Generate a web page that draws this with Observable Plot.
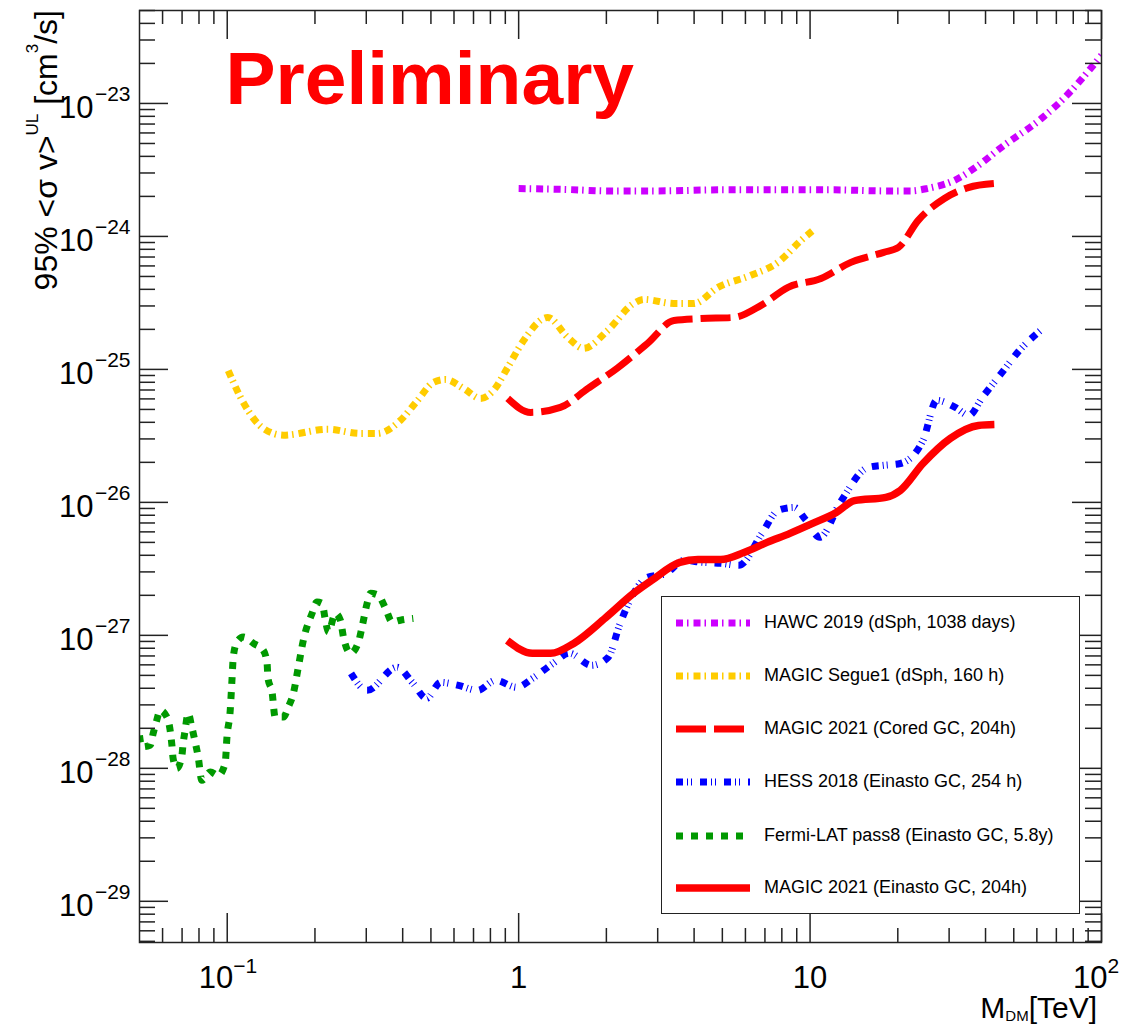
<!DOCTYPE html>
<html>
<head>
<meta charset="utf-8">
<script src="https://cdn.jsdelivr.net/npm/d3@7"></script>
<script src="https://cdn.jsdelivr.net/npm/@observablehq/plot@0.6"></script>
<style>
  body { margin: 0; background: #fff; }
  #wrap { position: relative; width: 1140px; height: 1025px; overflow: hidden; font-family: "Liberation Sans", Arial, sans-serif; color: #000; }
  #chart { position: absolute; left: 0; top: 0; }
  #ytitle { position: absolute; left: 30px; top: 310px; width: 300px; text-align: right; transform-origin: 0 0; transform: rotate(-90deg); font-size: 32px; line-height: 32px; white-space: nowrap; }
  #xtitle { position: absolute; right: 43px; top: 996px; font-size: 30px; line-height: 24px; white-space: nowrap; }
  #legend { position: absolute; left: 661px; top: 596px; width: 419px; height: 318px; border: 1.5px solid #222; background: #fff; box-sizing: border-box; }
  .lrow { position: absolute; left: 0; width: 100%; height: 20px; }
  .lrow svg { position: absolute; left: 14px; top: 0; }
  .lrow span { position: absolute; left: 102px; top: -1px; font-size: 18px; line-height: 20px; white-space: nowrap; }
</style>
</head>
<body>
<div id="wrap">
  <div id="chart"></div>
  <div id="ytitle">95% &lt;σ v&gt;<span style="font-size:17px;vertical-align:19px;line-height:0">UL</span> [cm<span style="font-size:17px;vertical-align:19px;line-height:0">3</span>/s]</div>
  <div id="xtitle">M<span style="font-size:15px;vertical-align:-3px;line-height:0">DM</span>[TeV]</div>
  <div id="legend"></div>
</div>
<script>
// ---------------- data ----------------
const hawcMass = [1, 1.5, 2, 3, 5, 8, 12, 18, 22.2, 25.4, 31.3, 37.8, 45.3, 62.2, 72.9, 100];
const hawcSigmaV = [2.29e-24, 2.25e-24, 2.2e-24, 2.2e-24, 2.24e-24, 2.24e-24, 2.24e-24, 2.2e-24, 2.2e-24, 2.3e-24, 2.64e-24, 3.42e-24, 4.67e-24, 7.7e-24, 1.05e-23, 2.3e-23];

const segueMass = [0.1008, 0.1135, 0.133, 0.156, 0.221, 0.286, 0.328, 0.393, 0.45, 0.51, 0.561, 0.647, 0.74, 0.82, 0.916, 1.04, 1.258, 1.474, 1.67, 2.02, 2.48, 2.69, 3.41, 3.99, 4.83, 6.27, 7.76, 9.31, 10.24];
const segueSigmaV = [9.8e-26, 5.65e-26, 3.6e-26, 3.2e-26, 3.55e-26, 3.3e-26, 3.3e-26, 4.14e-26, 5.85e-26, 7.98e-26, 8.4e-26, 7.2e-26, 6.05e-26, 6.95e-26, 1.03e-25, 1.65e-25, 2.46e-25, 1.74e-25, 1.44e-25, 1.96e-25, 3.13e-25, 3.36e-25, 3.13e-25, 3.13e-25, 4.14e-25, 5.1e-25, 6.38e-25, 9.33e-25, 1.11e-24];

const coredMass = [0.917, 1.10, 1.39, 1.73, 2.19, 2.77, 3.41, 4.22, 5.48, 6.79, 8.40, 10.9, 13.8, 17.9, 20.1, 23.5, 28.9, 34.9, 42.9];
const coredSigmaV = [6.05e-26, 4.75e-26, 5.18e-26, 7.2e-26, 1.03e-25, 1.57e-25, 2.33e-25, 2.41e-25, 2.46e-25, 3.03e-25, 4.14e-25, 4.83e-25, 6.38e-25, 7.59e-25, 8.27e-25, 1.32e-24, 1.93e-24, 2.33e-24, 2.5e-24];

const hessMass = [0.266, 0.302, 0.382, 0.434, 0.483, 0.540, 0.622, 0.723, 0.834, 0.984, 1.117, 1.314, 1.491, 1.78, 2.03, 2.22, 2.48, 2.76, 3.20, 3.69, 4.27, 4.94, 5.70, 6.84, 7.76, 8.81, 9.69, 10.8, 12.7, 15.8, 17.9, 20.4, 24.4, 27.2, 31.5, 35.1, 39.0, 45.3, 52.3, 61.7];
const hessSigmaV = [5.18e-28, 3.86e-28, 5.75e-28, 4.36e-28, 3.36e-28, 4.43e-28, 4.2e-28, 3.86e-28, 4.59e-28, 4.07e-28, 4.75e-28, 6.17e-28, 7.33e-28, 5.95e-28, 6.84e-28, 1.2e-27, 2.07e-27, 2.73e-27, 2.92e-27, 3.66e-27, 3.54e-27, 3.48e-27, 3.36e-27, 5.85e-27, 8.7e-27, 9.16e-27, 7.32e-27, 5.46e-27, 1.0e-26, 1.83e-26, 1.9e-26, 1.96e-26, 2.92e-26, 5.85e-26, 5.18e-26, 4.51e-26, 6.16e-26, 9.33e-26, 1.39e-25, 1.96e-25];

const fermiMass = [0.05, 0.0509, 0.0544, 0.0557, 0.0573, 0.0589, 0.0621, 0.0637, 0.0646, 0.0652, 0.0671, 0.0698, 0.0706, 0.0717, 0.0734, 0.0756, 0.0776, 0.0795, 0.0818, 0.0875, 0.0932, 0.0984, 0.0998, 0.1024, 0.1038, 0.1049, 0.108, 0.1135, 0.123, 0.133, 0.137, 0.138, 0.1425, 0.146, 0.156, 0.162, 0.1686, 0.1754, 0.1824, 0.1954, 0.2032, 0.2115, 0.2172, 0.2224, 0.235, 0.2445, 0.2505, 0.265, 0.282, 0.290, 0.302, 0.310, 0.330, 0.349, 0.368, 0.393, 0.435];
const fermiSigmaV = [1.77e-28, 1.45e-28, 1.49e-28, 1.83e-28, 2.3e-28, 2.73e-28, 2.43e-28, 1.93e-28, 1.49e-28, 1.19e-28, 1.0e-28, 1.22e-28, 1.54e-28, 1.93e-28, 2.59e-28, 2.04e-28, 1.58e-28, 1.22e-28, 8.13e-29, 9.38e-29, 8.85e-29, 1.09e-28, 1.72e-28, 2.73e-28, 4.59e-28, 6.87e-28, 8.9e-28, 9.7e-28, 8.71e-28, 7.71e-28, 6.16e-28, 4.75e-28, 3.75e-28, 2.43e-28, 2.43e-28, 2.89e-28, 3.66e-28, 5.78e-28, 9.16e-28, 1.46e-27, 1.78e-27, 1.74e-27, 1.3e-27, 1.06e-27, 1.46e-27, 1.3e-27, 9.7e-28, 7.33e-28, 8.9e-28, 1.15e-27, 1.74e-27, 2.07e-27, 2.0e-27, 1.6e-27, 1.26e-27, 1.3e-27, 1.34e-27];

const einastoMass = [0.914, 1.115, 1.288, 1.545, 1.99, 2.48, 2.86, 3.57, 4.12, 4.94, 5.93, 7.12, 8.53, 10.2, 12.3, 14.2, 18.2, 20.4, 24.4, 30.3, 37.8, 42.9];
const einastoSigmaV = [9.16e-28, 7.32e-28, 7.32e-28, 8.7e-28, 1.36e-27, 2.07e-27, 2.59e-27, 3.54e-27, 3.72e-27, 3.72e-27, 4.2e-27, 5.0e-27, 5.85e-27, 6.95e-27, 8.4e-27, 1.03e-26, 1.09e-26, 1.23e-26, 1.96e-26, 3.03e-26, 3.79e-26, 3.85e-26];

const xMajorTicks = [0.1, 1, 10, 100];
const xTickBase = ["10", "1", "10", "10"];
const xTickExp = ["−1", "", "", "2"];
const yMajorTicks = [1e-29, 1e-28, 1e-27, 1e-26, 1e-25, 1e-24, 1e-23];
const yTickExp = ["−29", "−28", "−27", "−26", "−25", "−24", "−23"];

const legendLabels = [
  "HAWC 2019 (dSph, 1038 days)",
  "MAGIC Segue1 (dSph, 160 h)",
  "MAGIC 2021 (Cored GC, 204h)",
  "HESS 2018 (Einasto GC, 254 h)",
  "Fermi-LAT pass8 (Einasto GC, 5.8y)",
  "MAGIC 2021 (Einasto GC, 204h)"
];

// ---------------- styles ----------------
const FONT = '"Liberation Sans", Arial, sans-serif';
const styles = [
  {color: "#CC00FF", width: 7, dash: "7 4 1.5 5"},
  {color: "#FFCC00", width: 7, dash: "7 4 1.5 5"},
  {color: "#FF0000", width: 7, dash: "30 8"},
  {color: "#0000FF", width: 7, dash: "7 4 1 3 1 8"},
  {color: "#009900", width: 7, dash: "7 8"},
  {color: "#FF0000", width: 7.5, dash: null}
];

const pts = (m, s) => m.map((d, i) => ({m: d, sv: s[i]}));
const seriesData = [
  pts(hawcMass, hawcSigmaV),
  pts(segueMass, segueSigmaV),
  pts(coredMass, coredSigmaV),
  pts(hessMass, hessSigmaV),
  pts(fermiMass, fermiSigmaV),
  pts(einastoMass, einastoSigmaV)
];

const W = 1140, H = 1025, mL = 139, mR = 39, mT = 10, mB = 83;
const fw = W - mL - mR, fh = H - mT - mB;
const xDomain = [0.05, 100], yDomain = [4.9e-30, 5e-23];

const xMinor = [], yMinor = [];
for (let e = -2; e <= 1; e++) for (let k = 2; k <= 9; k++) {
  const v = k * Math.pow(10, e);
  if (v > xDomain[0] * 1.0001 && v < xDomain[1]) xMinor.push(v);
}
for (let e = -30; e <= -23; e++) for (let k = 2; k <= 9; k++) {
  const v = k * Math.pow(10, e);
  if (v > yDomain[0] && v < yDomain[1]) yMinor.push(v);
}

const tickStroke = "#222";
const lineMarks = seriesData.map((d, i) => Plot.line(d, {
  x: "m", y: "sv", stroke: styles[i].color, strokeWidth: styles[i].width,
  strokeDasharray: styles[i].dash || undefined, strokeLinecap: "butt", strokeLinejoin: "round",
  curve: "monotone-x", clip: true
}));

const xLab = xMajorTicks.map((v, i) => ({v, b: xTickBase[i], e: xTickExp[i]}));
const yLab = yMajorTicks.map((v, i) => ({v, e: yTickExp[i]}));

const chart = Plot.plot({
  width: W, height: H, marginLeft: mL, marginRight: mR, marginTop: mT, marginBottom: mB,
  x: {type: "log", domain: xDomain, axis: null},
  y: {type: "log", domain: yDomain, axis: null},
  style: {fontFamily: FONT, background: "white", color: "#000"},
  marks: [
    ...lineMarks,
    Plot.tickX(xMajorTicks, {x: d => d, insetTop: fh - 29, stroke: tickStroke, strokeWidth: 1.5}),
    Plot.tickX(xMajorTicks, {x: d => d, insetBottom: fh - 29, stroke: tickStroke, strokeWidth: 1.5}),
    Plot.tickX(xMinor, {x: d => d, insetTop: fh - 14, stroke: tickStroke, strokeWidth: 1.5}),
    Plot.tickX(xMinor, {x: d => d, insetBottom: fh - 14, stroke: tickStroke, strokeWidth: 1.5}),
    Plot.tickY(yMajorTicks, {y: d => d, insetRight: fw - 29, stroke: tickStroke, strokeWidth: 1.5}),
    Plot.tickY(yMajorTicks, {y: d => d, insetLeft: fw - 29, stroke: tickStroke, strokeWidth: 1.5}),
    Plot.tickY(yMinor, {y: d => d, insetRight: fw - 16, stroke: tickStroke, strokeWidth: 1.5}),
    Plot.tickY(yMinor, {y: d => d, insetLeft: fw - 16, stroke: tickStroke, strokeWidth: 1.5}),
    Plot.frame({stroke: tickStroke, strokeWidth: 1.5}),
    // x tick labels
    Plot.text(xLab.filter(d => d.e), {x: "v", text: "b", frameAnchor: "bottom", dy: 45, dx: 6, textAnchor: "end", lineAnchor: "bottom", fontSize: 31, fill: "#000"}),
    Plot.text(xLab.filter(d => d.e), {x: "v", text: "e", frameAnchor: "bottom", dy: 30, dx: 6, textAnchor: "start", lineAnchor: "bottom", fontSize: 21, fill: "#000"}),
    Plot.text(xLab.filter(d => !d.e), {x: "v", text: "b", frameAnchor: "bottom", dy: 45, textAnchor: "middle", lineAnchor: "bottom", fontSize: 31, fill: "#000"}),
    // y tick labels
    Plot.text(yLab, {y: "v", text: () => "10", frameAnchor: "left", dx: -46, dy: 15, textAnchor: "end", lineAnchor: "bottom", fontSize: 31, fill: "#000"}),
    Plot.text(yLab, {y: "v", text: "e", frameAnchor: "left", dx: -9, dy: -2, textAnchor: "end", lineAnchor: "bottom", fontSize: 21, fill: "#000"}),
    // Preliminary
    Plot.text(["Preliminary"], {text: d => d, frameAnchor: "top-left", dx: 86, dy: 93, textAnchor: "start", lineAnchor: "bottom", fontSize: 75, fontWeight: "bold", fill: "#FF0000"})
  ]
});
document.getElementById("chart").appendChild(chart);

// ---------------- legend ----------------
const legend = d3.select("#legend");
const rowCenters = [26, 79, 132, 185, 239, 291];
legendLabels.forEach((lab, i) => {
  const row = legend.append("div").attr("class", "lrow").style("top", (rowCenters[i] - 10) + "px");
  const svg = row.append("svg").attr("width", 76).attr("height", 20);
  svg.append("line").attr("x1", 0).attr("x2", 74).attr("y1", 10).attr("y2", 10)
    .attr("stroke", styles[i].color).attr("stroke-width", styles[i].width)
    .attr("stroke-dasharray", styles[i].dash || null).attr("stroke-linecap", "butt");
  row.append("span").text(lab);
});
</script>
</body>
</html>
